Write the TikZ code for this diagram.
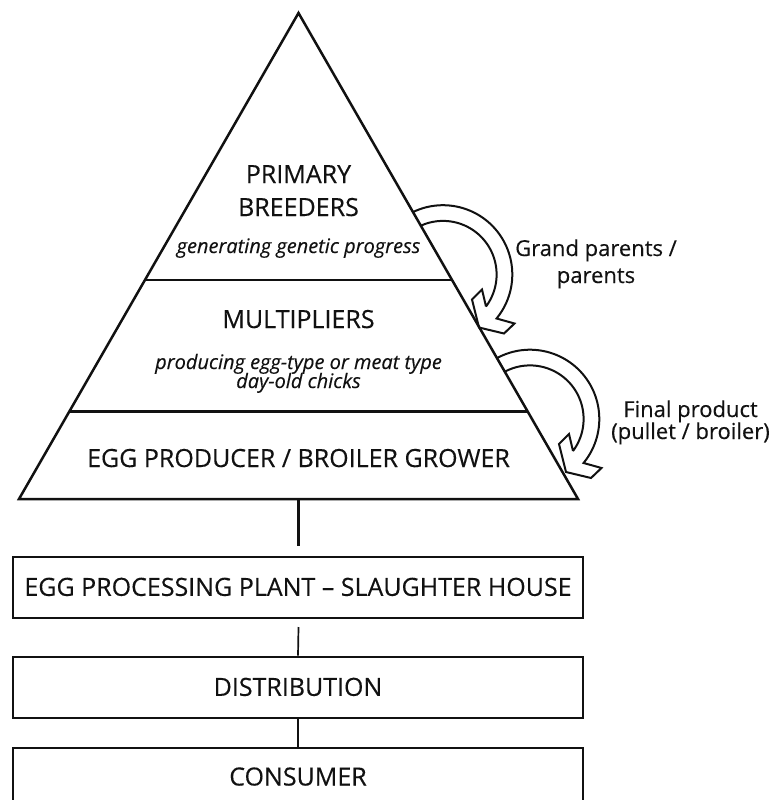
\documentclass[tikz,border=0pt]{standalone}
\usepackage{fontspec}
\setmainfont{Open Sans}[FakeBold=0.3]
\usetikzlibrary{calc}
\newcommand\bandarrow[4]{%
  \draw[band] plot[domain=#3:-39.4,samples=60] ({#1+69.3*cos(\x)},{#2-69.3*sin(\x)})
    -- ({#1+71.5},{#2+49}) -- ({#1+61},{#2+59}) -- ({#1+36},{#2+53})
    -- ({#1+29},{#2+25}) -- ({#1+39},{#2+15}) -- ({#1+43},{#2+32})
    -- plot[domain=-36.7:#4,samples=60] ({#1+53.6*cos(\x)},{#2-53.6*sin(\x)});
}
\begin{document}
\begin{tikzpicture}[x=1pt,y=-1pt]
\useasboundingbox (0,0) rectangle (776,800);
\definecolor{ink}{HTML}{111111}
\tikzset{
  tri/.style={line width=2.5pt, draw=ink},
  boxstyle/.style={draw=ink, line width=2pt, minimum width=570pt, inner sep=0pt,
     font=\fontsize{25}{28}\selectfont, text height=17pt, text depth=0pt, text=ink},
  conn/.style={draw=ink, line width=1.7pt},
  capt/.style={font=\fontsize{25}{28}\selectfont, anchor=base, inner sep=0pt, text=ink},
  subt/.style={font=\fontsize{20}{20}\selectfont\itshape, anchor=base, inner sep=0pt, text=ink},
  sidet/.style={font=\fontsize{22}{24}\selectfont, anchor=base, inner sep=0pt, text=ink},
  band/.style={draw=ink, line width=2pt, line join=miter}
}
% pyramid
\coordinate (apex) at (298.5,13);
\coordinate (bl) at (19,499);
\coordinate (br) at (578,499);
\draw[tri, line join=miter] (apex) -- (br) -- (bl) -- cycle;
\draw[tri] ($(apex)!0.5494!(bl)$) -- ($(apex)!0.5494!(br)$);
\draw[tri] ($(apex)!0.8204!(bl)$) -- ($(apex)!0.8204!(br)$);

% texts in pyramid
\node[capt] (pb1) at (298.5,183) {PRIMARY};
\node[capt] (pb2) at (298.5,216) {BREEDERS};
\node[subt] (pbs) at (298.5,253) {generating genetic progress};
\node[capt] (mu) at (298.5,328) {MULTIPLIERS};
\node[subt] (mus1) at (298.5,369) {producing egg-type or meat type};
\node[subt] (mus2) at (298.5,388) {day-old chicks};
\node[capt] (ep) at (298.5,467) {EGG PRODUCER / BROILER GROWER};

% curved arrows
\bandarrow{443}{274.5}{115.5}{114.5}
\bandarrow{530}{419}{118.4}{118}

% side labels
\node[sidet] (gp1) at (596,256) {Grand parents /};
\node[sidet] (gp2) at (596,283) {parents};
\node[sidet] (fp1) at (690.5,417) {Final product};
\node[sidet] (fp2) at (690.5,439) {(pullet / broiler)};

% chain boxes
\node[boxstyle, minimum height=61.3pt] (proc) at (298,587.35) {EGG PROCESSING PLANT – SLAUGHTER HOUSE};
\node[boxstyle, minimum height=61.3pt] (dist) at (298,687.35) {DISTRIBUTION};
\node[boxstyle, minimum height=58pt] (cons) at (298,777) {CONSUMER};

% connectors
\coordinate (basemid) at (298.5,499);
\coordinate (c1end) at (298.5,546);
\coordinate (c2start) at (298.5,627);
\draw[tri] (basemid) -- (c1end);
\draw[conn] (c2start) -- (dist.north);
\draw[conn] (dist.south) -- (cons.north);
\end{tikzpicture}
\end{document}
